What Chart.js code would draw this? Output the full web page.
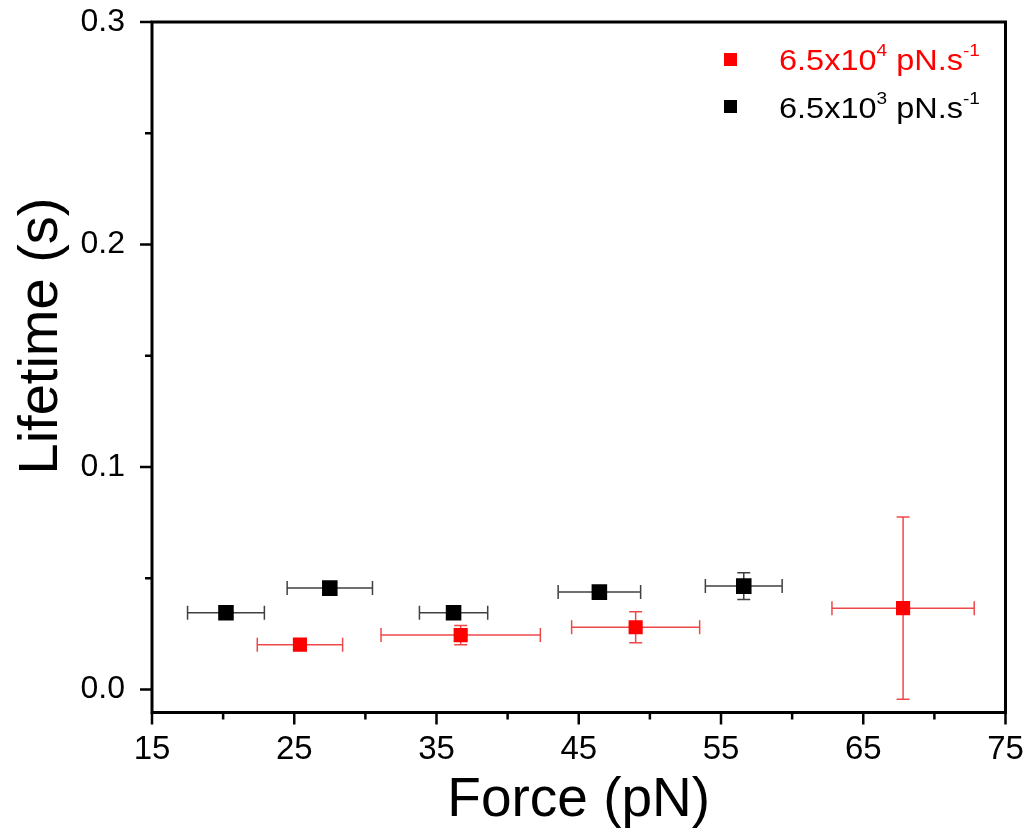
<!DOCTYPE html>
<html>
<head>
<meta charset="utf-8">
<script src="https://cdn.jsdelivr.net/npm/chart.js@4"></script>
<style>
  body { margin: 0; background: #fff; }
  #wrap { position: relative; width: 1024px; height: 836px; }
  .leg { position: absolute; font-family: "Liberation Sans", Arial, sans-serif; font-size: 29px; white-space: nowrap; line-height: 1; transform: scaleX(1.12); transform-origin: left top; }
  .leg sup { font-size: 17px; position: relative; top: -4px; vertical-align: top; }
  .mk { position: absolute; width: 13px; height: 13px; }
</style>
</head>
<body>
<div id="wrap">
  <canvas id="lifetime" width="1024" height="836"></canvas>
  <div class="mk" style="left:724px;top:53px;background:#ff0000"></div>
  <div class="leg" style="left:779px;top:46px;color:#ff0000">6.5x10<sup>4</sup> pN.s<sup>-1</sup></div>
  <div class="mk" style="left:724px;top:100px;background:#000"></div>
  <div class="leg" style="left:779px;top:94px;color:#000">6.5x10<sup>3</sup> pN.s<sup>-1</sup></div>
</div>
<script>
// 6.5x10^4 pN/s (red)
var fastForce = [25.4, 36.7, 49.0, 67.8];
var fastLife = [0.0202, 0.0245, 0.028, 0.0366];
var fastForceErr = [3.0, 5.6, 4.5, 5.0];
var fastLifeErr = [0.001, 0.0043, 0.007, 0.041];

// 6.5x10^3 pN/s (black)
var slowForce = [20.2, 27.5, 36.2, 46.45, 56.6];
var slowLife = [0.0345, 0.0456, 0.0345, 0.0438, 0.0465];
var slowForceErr = [2.7, 3.0, 2.4, 2.9, 2.7];
var slowLifeErr = [0.001, 0.001, 0.001, 0.002, 0.006];

var xTicks = [15, 25, 35, 45, 55, 65, 75];
var xMinor = [20, 30, 40, 50, 60, 70];
var yTicks = [0.0, 0.1, 0.2, 0.3];
var yMinor = [0.05, 0.15, 0.25];
var yTitle = 'Lifetime (s)';

function points(xs, ys, xe, ye) {
  return xs.map(function (v, i) {
    return { x: v, y: ys[i], xe: xe[i], ye: ye[i] };
  });
}

var errorBars = {
  id: 'errorBars',
  beforeDatasetsDraw: function (chart) {
    var ctx = chart.ctx, x = chart.scales.x, y = chart.scales.y;
    chart.data.datasets.forEach(function (ds) {
      ctx.save();
      ctx.strokeStyle = ds.errColor;
      ctx.lineWidth = 1.5;
      ds.data.forEach(function (p) {
        var px = x.getPixelForValue(p.x), py = y.getPixelForValue(p.y);
        var xl = x.getPixelForValue(p.x - p.xe), xr = x.getPixelForValue(p.x + p.xe);
        var yt = y.getPixelForValue(p.y + p.ye), yb = y.getPixelForValue(p.y - p.ye);
        ctx.beginPath();
        ctx.moveTo(xl, py); ctx.lineTo(xr, py);
        ctx.moveTo(xl, py - 7); ctx.lineTo(xl, py + 7);
        ctx.moveTo(xr, py - 7); ctx.lineTo(xr, py + 7);
        ctx.moveTo(px, yt); ctx.lineTo(px, yb);
        ctx.moveTo(px - 6.5, yt); ctx.lineTo(px + 6.5, yt);
        ctx.moveTo(px - 6.5, yb); ctx.lineTo(px + 6.5, yb);
        ctx.stroke();
      });
      ctx.restore();
    });
  },
  afterDraw: function (chart) {
    var ctx = chart.ctx, a = chart.chartArea, x = chart.scales.x, y = chart.scales.y;
    ctx.save();
    ctx.strokeStyle = '#000';
    ctx.lineWidth = 3;
    ctx.strokeRect(a.left, a.top, a.right - a.left, a.bottom - a.top);
    ctx.lineWidth = 2.5;
    ctx.beginPath();
    xTicks.forEach(function (v) { var p = x.getPixelForValue(v); ctx.moveTo(p, a.bottom); ctx.lineTo(p, a.bottom + 12); });
    xMinor.forEach(function (v) { var p = x.getPixelForValue(v); ctx.moveTo(p, a.bottom); ctx.lineTo(p, a.bottom + 7); });
    yTicks.forEach(function (v) { var p = y.getPixelForValue(v); ctx.moveTo(a.left, p); ctx.lineTo(a.left - 12, p); });
    yMinor.forEach(function (v) { var p = y.getPixelForValue(v); ctx.moveTo(a.left, p); ctx.lineTo(a.left - 7, p); });
    ctx.stroke();
    // y axis title, placed as in the original figure
    ctx.translate(42, 336);
    ctx.rotate(-Math.PI / 2);
    ctx.fillStyle = '#000';
    ctx.font = '56px "Liberation Sans", Arial';
    ctx.textAlign = 'center';
    ctx.textBaseline = 'middle';
    ctx.fillText(yTitle, 0, 0);
    ctx.restore();
  }
};

var ctx = document.getElementById('lifetime').getContext('2d');
var lifetimeChart = new Chart(ctx, {
  type: 'scatter',
  data: {
    datasets: [{
      label: '6.5x10^4 pN.s^-1',
      data: points(fastForce, fastLife, fastForceErr, fastLifeErr),
      backgroundColor: '#ff0000',
      borderColor: '#ff0000',
      errColor: '#f04848',
      pointStyle: 'rect',
      pointRadius: 10,
      borderWidth: 0
    }, {
      label: '6.5x10^3 pN.s^-1',
      data: points(slowForce, slowLife, slowForceErr, slowLifeErr),
      backgroundColor: '#000',
      borderColor: '#000',
      errColor: '#404040',
      pointStyle: 'rect',
      pointRadius: 11,
      borderWidth: 0
    }]
  },
  options: {
    responsive: false,
    animation: false,
    layout: { padding: { top: 22, right: 18.5, left: 0, bottom: 0 } },
    plugins: { legend: { display: false }, tooltip: { enabled: false } },
    scales: {
      x: {
        min: 15, max: 75,
        afterBuildTicks: function (s) { s.ticks = xTicks.map(function (v) { return { value: v }; }); },
        afterFit: function (s) { s.height = 123.5; s.paddingLeft = 0; s.paddingRight = 0; },
        grid: { display: false },
        border: { display: false },
        ticks: {
          color: '#000', padding: 10, maxRotation: 0, autoSkip: false,
          font: { family: '"Liberation Sans", Arial', size: 33 }
        },
        title: {
          display: true, text: 'Force (pN)', color: '#000', padding: { top: 0, bottom: 2 },
          font: { family: '"Liberation Sans", Arial', size: 55 }
        }
      },
      y: {
        min: -0.0103, max: 0.3,
        afterBuildTicks: function (s) { s.ticks = yTicks.map(function (v) { return { value: v }; }); },
        afterFit: function (s) { s.width = 152; s.paddingTop = 0; s.paddingBottom = 0; },
        grid: { display: false },
        border: { display: false },
        ticks: {
          color: '#000', padding: 19,
          callback: function (v) { return v.toFixed(1); },
          font: { family: '"Liberation Sans", Arial', size: 32 }
        },
        title: { display: false }
      }
    }
  },
  plugins: [errorBars]
});
</script>
</body>
</html>
